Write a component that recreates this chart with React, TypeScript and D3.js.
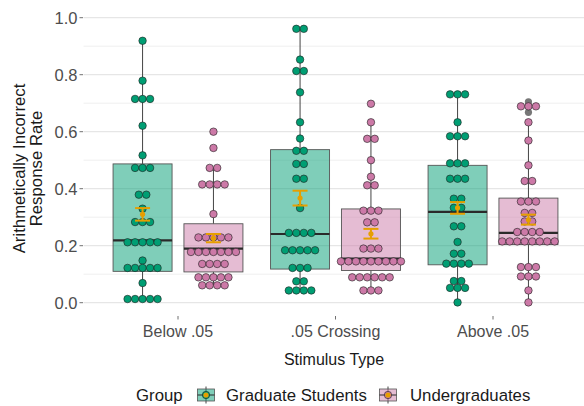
import React from "react";
import * as d3 from "d3";

// Stimulus categories and participant groups
const categories = ["Below .05", ".05 Crossing", "Above .05"];
const groups = ["Graduate Students", "Undergraduates"];

// Dot rows (each value repeated once per participant in that bin)
const belowGrad = [
  0.919, 0.779, 0.715, 0.715, 0.715, 0.621, 0.517, 0.473, 0.473, 0.473,
  0.379, 0.379, 0.33, 0.283, 0.283, 0.283, 0.212, 0.212, 0.212, 0.212, 0.212,
  0.148, 0.122, 0.122, 0.122, 0.122, 0.122, 0.069, 0.013, 0.013, 0.013, 0.013, 0.013,
];
const belowUnder = [
  0.6, 0.543, 0.473, 0.473, 0.415, 0.415, 0.415, 0.415, 0.311,
  0.229, 0.229, 0.229, 0.229, 0.229, 0.178, 0.178, 0.178, 0.178, 0.178, 0.178, 0.178,
  0.136, 0.136, 0.136, 0.136, 0.089, 0.089, 0.089, 0.089, 0.089,
  0.061, 0.061, 0.061, 0.061,
];
const crossGrad = [
  0.961, 0.961, 0.853, 0.813, 0.813, 0.738, 0.633, 0.576, 0.533, 0.533,
  0.487, 0.487, 0.435, 0.435, 0.332, 0.245, 0.245, 0.245, 0.245,
  0.184, 0.184, 0.184, 0.184, 0.184, 0.122, 0.122, 0.122, 0.075, 0.075,
  0.043, 0.043, 0.043, 0.043,
];
const crossUnder = [
  0.698, 0.633, 0.575, 0.575, 0.5, 0.442, 0.412, 0.412, 0.323, 0.323, 0.323,
  0.282, 0.282, 0.19, 0.19, 0.19,
  0.145, 0.145, 0.145, 0.145, 0.145, 0.145, 0.145, 0.145, 0.145,
  0.089, 0.089, 0.089, 0.089, 0.089, 0.089, 0.043, 0.043, 0.043,
];
const aboveGrad = [
  0.731, 0.731, 0.731, 0.633, 0.584, 0.584, 0.584, 0.489, 0.489, 0.489,
  0.435, 0.435, 0.435, 0.365, 0.365, 0.333, 0.333, 0.268, 0.268, 0.213,
  0.172, 0.172, 0.137, 0.137, 0.137, 0.137, 0.076, 0.076, 0.052, 0.052, 0.052, 0.001,
];
const aboveUnder = [
  0.689, 0.689, 0.689, 0.633, 0.569, 0.482, 0.427, 0.427, 0.355, 0.355, 0.355,
  0.315, 0.315, 0.285, 0.285, 0.248, 0.248, 0.248, 0.248,
  0.215, 0.215, 0.215, 0.215, 0.215, 0.215, 0.215, 0.215,
  0.125, 0.125, 0.125, 0.092, 0.092, 0.092, 0.043, 0.001,
];

// Box summaries, ordered: Below/Grad, Below/Under, Cross/Grad, Cross/Under, Above/Grad, Above/Under
const whiskerLow = [0.013, 0.061, 0.043, 0.043, 0.001, 0.001];
const quartile1 = [0.11, 0.108, 0.118, 0.113, 0.133, 0.204];
const medians = [0.219, 0.19, 0.241, 0.155, 0.319, 0.245];
const quartile3 = [0.487, 0.277, 0.537, 0.329, 0.482, 0.367];
const whiskerHigh = [0.919, 0.473, 0.961, 0.633, 0.731, 0.633];
const means = [0.31, 0.226, 0.367, 0.242, 0.333, 0.291];
const seLow = [0.288, 0.212, 0.341, 0.225, 0.312, 0.274];
const seHigh = [0.332, 0.241, 0.393, 0.259, 0.353, 0.309];
const outliers = [[], [], [], [], [], [0.705, 0.668]];

const yTicks = [0, 0.2, 0.4, 0.6, 0.8, 1.0];
const yMinor = [0.1, 0.3, 0.5, 0.7, 0.9];

const dotSeries = [belowGrad, belowUnder, crossGrad, crossUnder, aboveGrad, aboveUnder];

const fills = ["#009E73", "#CC79A7"];
const orange = "#E69F00";
const FONT = "'Liberation Sans', Arial, sans-serif";

export default function App() {
  const W = 584;
  const H = 406;
  const panel = { left: 83.5, right: 587.5, top: 15, bottom: 316 };

  const x = d3.scaleBand<string>().domain(categories).range([panel.left, panel.right]).paddingInner(0).paddingOuter(0.1);
  const step = x.step();
  const xg = d3.scaleBand<string>().domain(groups).range([-0.45 * step, 0.45 * step]);
  const y = d3.scaleLinear().domain([0, 1]).range([302.7, 17.7]);

  const boxW = 59;
  const dotD = 7.5;
  const capW = 15;

  const entries = categories.flatMap((c, ci) =>
    groups.map((g, gi) => {
      const i = ci * 2 + gi;
      const cx = (x(c) as number) + step / 2 + (xg(g) as number) + xg.bandwidth() / 2;
      return { i, gi, cx };
    })
  );

  return (
    <svg width={W} height={H} style={{ position: "absolute", left: 0, top: 0, background: "#fff" }} fontFamily={FONT}>
      {/* grid */}
      {yMinor.map((v) => (
        <line key={"mn" + v} x1={panel.left} x2={panel.right} y1={y(v)} y2={y(v)} stroke="#ececec" strokeWidth={0.8} />
      ))}
      {yTicks.map((v) => (
        <line key={"mj" + v} x1={panel.left} x2={panel.right} y1={y(v)} y2={y(v)} stroke="#e0e0e0" strokeWidth={1} />
      ))}

      {/* y axis */}
      {yTicks.map((v) => (
        <g key={"yt" + v}>
          <line x1={79.5} x2={83} y1={y(v)} y2={y(v)} stroke="#4d4d4d" strokeWidth={0.8} />
          <text x={77.5} y={y(v)} dy="0.36em" textAnchor="end" fontSize={16.5} fill="#4d4d4d">
            {d3.format(".1f")(v)}
          </text>
        </g>
      ))}
      <text transform={`translate(25,${(panel.top + panel.bottom) / 2 + 3}) rotate(-90)`} textAnchor="middle" fontSize={16.8} fill="#1a1a1a">
        <tspan x={0} dy={0}>Arithmetically Incorrect</tspan>
        <tspan x={0} dy={17}>Response Rate</tspan>
      </text>

      {/* x axis */}
      {categories.map((c) => {
        const cx = (x(c) as number) + step / 2;
        return (
          <g key={"xt" + c}>
            <line x1={cx} x2={cx} y1={316} y2={319.5} stroke="#4d4d4d" strokeWidth={0.8} />
            <text x={cx} y={337} textAnchor="middle" fontSize={16} fill="#4d4d4d">{c}</text>
          </g>
        );
      })}
      <text x={334} y={365} textAnchor="middle" fontSize={16} fill="#1a1a1a">Stimulus Type</text>

      {/* boxes */}
      {entries.map(({ i, gi, cx }) => (
        <g key={"box" + i}>
          <line x1={cx} x2={cx} y1={y(quartile3[i])} y2={y(whiskerHigh[i])} stroke="#444" strokeWidth={1} />
          <line x1={cx} x2={cx} y1={y(quartile1[i])} y2={y(whiskerLow[i])} stroke="#444" strokeWidth={1} />
          <rect x={cx - boxW / 2} y={y(quartile3[i])} width={boxW} height={y(quartile1[i]) - y(quartile3[i])}
            fill={fills[gi]} fillOpacity={0.5} stroke="#555" strokeWidth={0.9} />
          <line x1={cx - boxW / 2} x2={cx + boxW / 2} y1={y(medians[i])} y2={y(medians[i])} stroke="#2a2a2a" strokeWidth={2.2} />
          {outliers[i].map((v, k) => (
            <circle key={k} cx={cx} cy={y(v)} r={3.6} fill="#555" fillOpacity={0.8} />
          ))}
        </g>
      ))}

      {/* dots */}
      {entries.map(({ i, gi, cx }) => {
        const rows = d3.rollups(dotSeries[i], (v) => v.length, (v) => v);
        return (
          <g key={"dots" + i}>
            {rows.flatMap(([v, n]) =>
              d3.range(n).map((k) => (
                <circle key={v + "-" + k} cx={cx + (k - (n - 1) / 2) * dotD} cy={y(v)} r={dotD / 2}
                  fill={fills[gi]} stroke="#1e1e1e" strokeWidth={0.6} />
              ))
            )}
          </g>
        );
      })}

      {/* means with standard error */}
      {entries.map(({ i, cx }) => (
        <g key={"mean" + i} stroke={orange} strokeWidth={2}>
          <line x1={cx} x2={cx} y1={y(seLow[i])} y2={y(seHigh[i])} />
          <line x1={cx - capW / 2} x2={cx + capW / 2} y1={y(seLow[i])} y2={y(seLow[i])} />
          <line x1={cx - capW / 2} x2={cx + capW / 2} y1={y(seHigh[i])} y2={y(seHigh[i])} />
          <circle cx={cx} cy={y(means[i])} r={2.6} fill={orange} stroke="none" />
        </g>
      ))}

      {/* legend */}
      <g fontSize={16.8} fill="#1a1a1a">
        <text x={136} y={401}>Group</text>
        {groups.map((g, gi) => {
          const kx = gi === 0 ? 197 : 379;
          const tx = gi === 0 ? 226 : 410;
          return (
            <g key={"lg" + g}>
              <line x1={kx + 9} x2={kx + 9} y1={386.5} y2={403.5} stroke="#444" strokeWidth={1} />
              <rect x={kx + 0.5} y={389} width={17} height={12} fill={fills[gi]} fillOpacity={0.5} stroke="#555" strokeWidth={0.8} />
              <line x1={kx + 0.5} x2={kx + 17.5} y1={395} y2={395} stroke="#2a2a2a" strokeWidth={1} />
              <circle cx={kx + 9} cy={395} r={3.7} fill={fills[gi]} stroke="#1e1e1e" strokeWidth={0.6} />
              <circle cx={kx + 9} cy={395} r={2.6} fill={orange} />
              <text x={tx} y={401}>{g}</text>
            </g>
          );
        })}
      </g>
    </svg>
  );
}
